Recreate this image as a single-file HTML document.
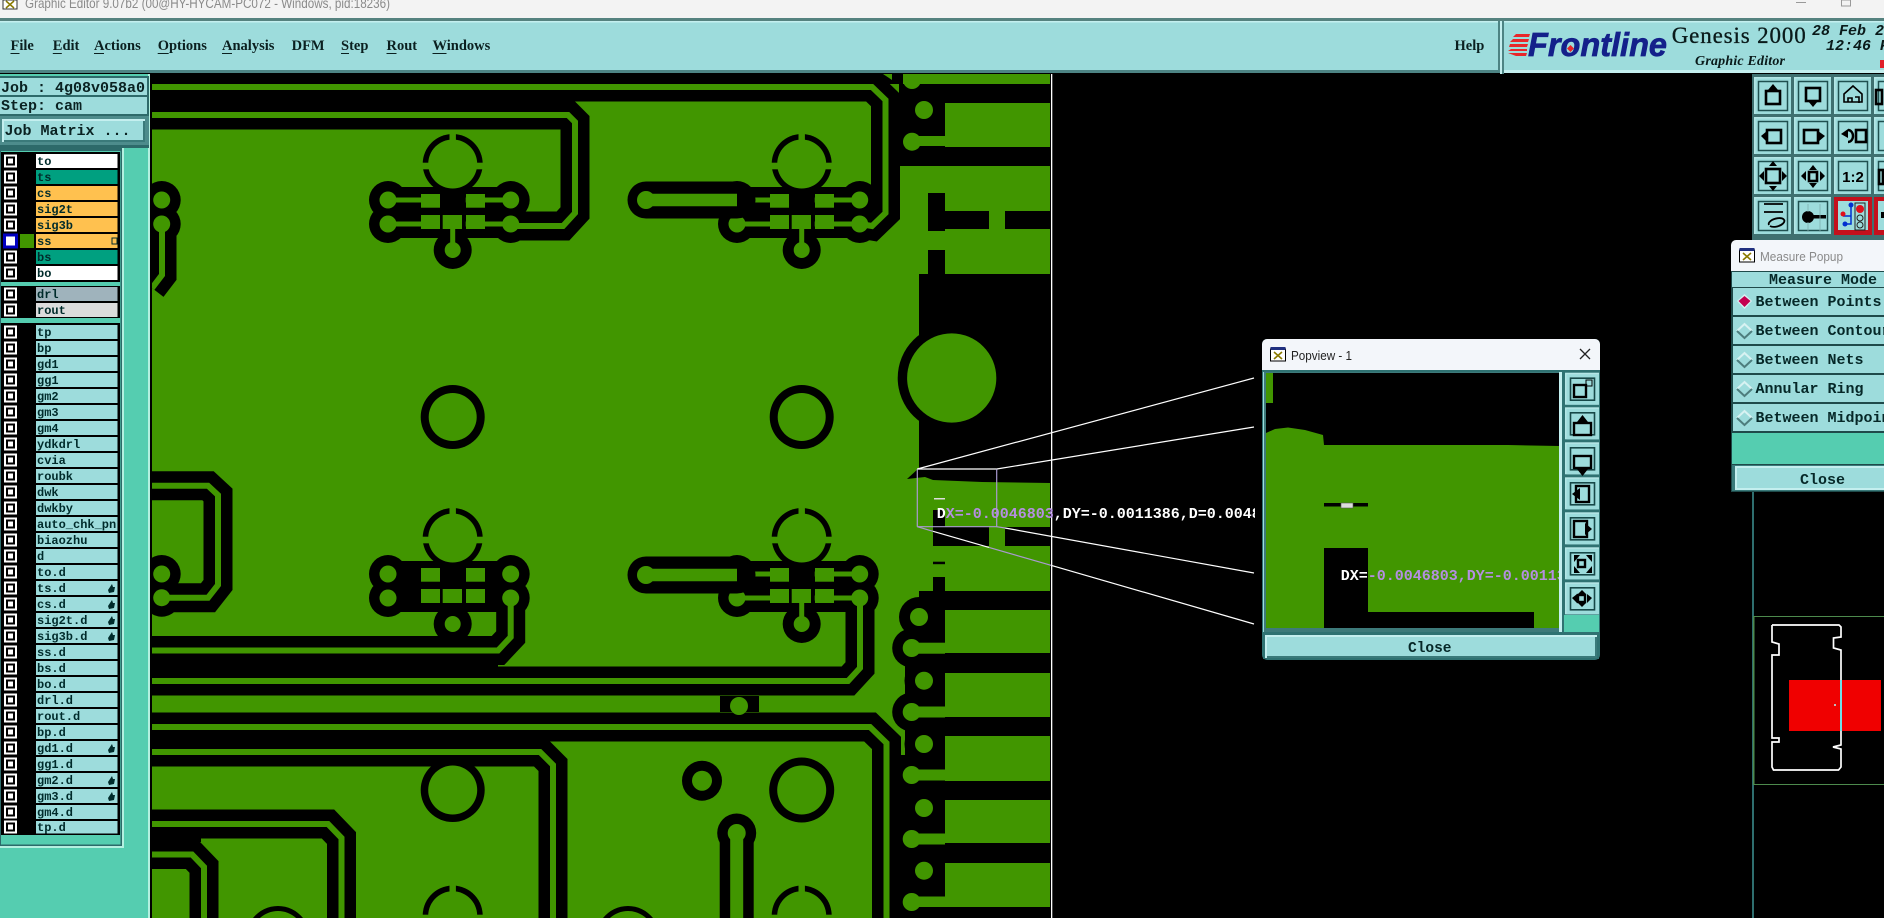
<!DOCTYPE html>
<html><head><meta charset="utf-8"><title>Graphic Editor</title>
<style>
html,body{margin:0;padding:0;background:#000;width:1884px;height:918px;overflow:hidden}
svg{display:block;position:absolute;left:0;top:0}
.m{font-family:"Liberation Mono",monospace;font-weight:bold}
.s{font-family:"Liberation Serif",serif}
.a{font-family:"Liberation Sans",sans-serif}
.l{font-family:"Liberation Mono",monospace;font-weight:bold;font-size:12px;fill:#002b2b}
.r{font-family:"Liberation Mono",monospace;font-weight:bold;font-size:15px;fill:#062828}
.n{font-family:"Liberation Serif",serif;font-weight:bold;font-size:14.5px;fill:#0b2020}
</style></head><body>
<svg width="1884" height="918" viewBox="0 0 1884 918" xmlns="http://www.w3.org/2000/svg">
<defs>
<clipPath id="pcb"><rect x="152" y="74" width="899" height="844"/></clipPath>
<clipPath id="dx"><rect x="900" y="490" width="355" height="40"/></clipPath>
<clipPath id="pv"><rect x="1266" y="373" width="293" height="255"/></clipPath>
<clipPath id="tbc"><rect x="1752" y="74" width="132" height="168"/></clipPath>
<g id="ck"><rect x="4" y="-6.5" width="13" height="13" fill="#fff"/><rect x="6" y="-4.5" width="9" height="9" fill="#000"/><rect x="8" y="-2.5" width="5" height="5" fill="#fff"/></g>
<g id="cb">
<circle cx="0" cy="0" r="30" fill="#000"/>
<rect x="-64.7" y="23" width="122.7" height="51" fill="#000"/>
<circle cx="-64.7" cy="36" r="19" fill="#000"/><circle cx="-64.7" cy="60" r="19" fill="#000"/>
<circle cx="58" cy="36" r="19" fill="#000"/><circle cx="58" cy="60" r="19" fill="#000"/>
<circle cx="0" cy="86" r="19" fill="#000"/>
<circle cx="0" cy="0" r="24.5" fill="#419600"/>
<rect x="-3.2" y="-31" width="6.4" height="8" fill="#419600"/>
<rect x="-31" y="-1.3" width="8" height="6.6" fill="#419600"/><rect x="23" y="-1.3" width="8" height="6.6" fill="#419600"/>
<rect x="-31.7" y="30" width="19" height="13.7" fill="#419600"/><rect x="13.3" y="30" width="19" height="13.7" fill="#419600"/>
<rect x="-31.7" y="51" width="19" height="14" fill="#419600"/><rect x="-10" y="51" width="19.3" height="14" fill="#419600"/><rect x="13.3" y="51" width="19" height="14" fill="#419600"/>
<circle cx="-64.7" cy="36" r="8.5" fill="#419600"/><circle cx="-64.7" cy="60" r="8.5" fill="#419600"/>
<circle cx="58" cy="36" r="8.5" fill="#419600"/><circle cx="58" cy="60" r="8.5" fill="#419600"/>
<circle cx="0" cy="86" r="8" fill="#419600"/>
</g>
<g id="cl" stroke="#419600" stroke-width="5" fill="none">
<path d="M-64.7 36H-31M-64.7 60H-31M13 36H58M13 60H58M0 65V86"/>
</g>
<g id="rt">
<path d="M-29.9 2A30 30 0 1 1 29.9 2Z" fill="#000"/>
<path d="M-24.4 2A24.5 24.5 0 1 1 24.4 2Z" fill="#419600"/>
<rect x="-3.2" y="-31" width="6.4" height="8" fill="#419600"/>
<rect x="-31" y="-1.3" width="8" height="3.3" fill="#419600"/><rect x="23" y="-1.3" width="8" height="3.3" fill="#419600"/>
</g>
<g id="tb"><rect width="38" height="38" fill="#3f7070"/><rect width="37" height="37" fill="#b4e6e6"/><rect x="1.5" y="1.5" width="35.5" height="35.5" fill="#9ddcdc"/><rect x="4.5" y="4.5" width="29" height="29" fill="none" stroke="#1f5050" stroke-width="1.5"/></g>
<g id="pb"><rect width="35" height="33" fill="#2f7272"/><rect width="34" height="32" fill="#b4e6e6"/><rect x="1.5" y="1.5" width="32.5" height="30.5" fill="#9ddcdc"/><rect x="5.5" y="5.5" width="24" height="22" fill="none" stroke="#174848" stroke-width="1.6"/></g>
<g id="ic"><rect x="-7.5" y="-6" width="15" height="12" fill="#fff" stroke="#000"/><rect x="-7.5" y="-8" width="15" height="3" fill="#203080"/><path d="M-4-3L4 4M4-3L-4 4" stroke="#8a7a00" stroke-width="1.6"/></g>
</defs>

<rect width="1884" height="918" fill="#000"/>

<!-- PCB -->
<g clip-path="url(#pcb)">
<rect x="152" y="74" width="898" height="844" fill="#419600"/>
<g fill="#000">
<rect x="899" y="84" width="151" height="19"/>
<rect x="899" y="84" width="46" height="82"/>
<rect x="899" y="147" width="151" height="19"/>
<rect x="928" y="193" width="17" height="38"/><rect x="928" y="211" width="61" height="18"/><rect x="1005" y="211" width="45" height="18"/>
<rect x="928" y="250" width="17" height="24"/>
<polygon points="919,274 1050,274 1050,483 982,482 933,480 925,477 907,479 919,468"/>
<rect x="933" y="510" width="12" height="36"/><rect x="933" y="527" width="56" height="19"/><rect x="1005" y="527" width="45" height="19"/>
<rect x="933" y="561.7" width="12" height="2.5"/><rect x="933" y="577" width="12" height="14"/>
<rect x="919" y="591" width="131" height="19"/>
<rect x="905" y="610" width="40" height="308"/><rect x="900" y="755" width="45" height="163"/>
<rect x="905" y="653" width="145" height="20"/><rect x="905" y="717" width="145" height="19"/><rect x="905" y="781" width="145" height="19"/><rect x="905" y="843" width="145" height="20"/><rect x="905" y="907" width="145" height="11"/>
<circle cx="951.7" cy="378" r="54"/>
<circle cx="919" cy="617" r="20"/><circle cx="911.7" cy="648" r="19.5"/><circle cx="924" cy="680.7" r="19.5"/><circle cx="911.7" cy="712" r="19.5"/><circle cx="924" cy="744" r="19.5"/>
<rect x="720" y="696" width="39" height="16"/>
<rect x="152" y="640" width="346" height="30"/>
<rect x="152" y="836" width="49" height="6"/>
</g>
<circle cx="951.7" cy="378" r="44.6" fill="#419600"/>
<!-- clearances -->
<g fill="none" stroke="#000" stroke-width="29">
<path d="M152 87H872L885.5 100V213L872 226L860 224"/>
<path d="M152 115H568L575 122V213L563 226H511"/>
<path d="M152 681H848L860 668V598"/>
<path d="M152 650.5H498L510.7 637V598"/>
<path d="M152 727H870L886.5 743V918"/>
<path d="M152 752H540L553 765V918"/>
<path d="M152 824H328L341.5 838V918"/>
<path d="M152 854.5H192L204 867V918"/>
<path d="M152 485.7H208L218 495V585L208 597.7H161.7"/>
<path d="M162 224V275L152 288"/>
<path d="M736.7 833V918" stroke-width="34"/>
</g>
<rect x="152" y="74" width="899" height="10" fill="#000"/>
<rect x="903" y="74" width="147" height="10" fill="#419600"/>
<polygon points="883,74 892,74 892,80" fill="#419600"/>
<!-- clusters -->
<use href="#cb" x="452.7" y="164"/><use href="#cl" x="452.7" y="164"/>
<use href="#cb" x="801.7" y="164"/><use href="#cl" x="801.7" y="164"/>
<use href="#cb" x="452.7" y="538"/>
<use href="#cb" x="801.7" y="538"/><use href="#cl" x="801.7" y="538"/>
<use href="#rt" x="452.7" y="916"/><use href="#rt" x="801.7" y="916"/>
<g fill="#000">
<circle cx="161.7" cy="200" r="19"/><circle cx="161.7" cy="224" r="19"/>
<circle cx="161.7" cy="574" r="19"/><circle cx="161.7" cy="597.7" r="19"/>
<circle cx="452.7" cy="417" r="32"/><circle cx="801.7" cy="417" r="32"/>
<circle cx="452.7" cy="790" r="32"/><circle cx="801.7" cy="790" r="32.5"/>
<circle cx="702" cy="780.7" r="20"/><circle cx="736.7" cy="833" r="19.5"/>
<path d="M253 918A32 32 0 0 1 303 918ZM603 918A32 32 0 0 1 653 918Z"/>
</g>
<path d="M646 200H737M646 575H737" stroke="#000" stroke-width="37" stroke-linecap="round" fill="none"/>
<!-- green traces -->
<g fill="none" stroke="#419600" stroke-width="6">
<path d="M152 87H872L885.5 100V213L872 226L860 224"/>
<path d="M152 115H568L575 122V213L563 226H511"/>
<path d="M152 681H848L860 668V598"/>
<path d="M152 650.5H498L510.7 637V598"/>
<path d="M152 727H870L886.5 743V918"/>
<path d="M152 752H540L553 765V918"/>
<path d="M152 824H328L341.5 838V918"/>
<path d="M152 854.5H192L204 867V918"/>
<path d="M152 485.7H208L218 495V585L208 597.7H161.7"/>
<path d="M162 224V275L152 288"/>
<path d="M736.7 833V918" stroke-width="13"/>
<path d="M646 200H737M646 575H737" stroke-width="12.6"/>
</g>
<g fill="#419600">
<circle cx="161.7" cy="200" r="8.5"/><circle cx="161.7" cy="224" r="8.5"/>
<circle cx="161.7" cy="574" r="8.5"/><circle cx="161.7" cy="597.7" r="8.5"/>
<circle cx="646" cy="200" r="9"/><circle cx="646" cy="575" r="9"/>
<circle cx="452.7" cy="417" r="24"/><circle cx="801.7" cy="417" r="24"/>
<circle cx="452.7" cy="790" r="24.5"/><circle cx="801.7" cy="790" r="24.5"/>
<circle cx="702" cy="780.7" r="10"/><circle cx="736.7" cy="833" r="9"/>
<circle cx="739" cy="706" r="9"/>
<path d="M259.9 918A27 27 0 0 1 296.1 918ZM609.9 918A27 27 0 0 1 646.1 918Z"/>
<circle cx="912" cy="80" r="9"/><circle cx="924" cy="110" r="9"/><circle cx="912" cy="141.7" r="9"/><rect x="912" y="136" width="33" height="10"/>
<circle cx="919" cy="617" r="9"/><circle cx="924" cy="680.7" r="9"/><circle cx="924" cy="744" r="9"/><circle cx="924" cy="808" r="9"/><circle cx="924" cy="870.7" r="9"/>
<circle cx="911.7" cy="648" r="9"/><rect x="912" y="642.7" width="33" height="11"/>
<circle cx="911.7" cy="712" r="9"/><rect x="912" y="706.5" width="33" height="11"/>
<circle cx="911.7" cy="775" r="9"/><rect x="912" y="769.5" width="33" height="11"/>
<circle cx="911.7" cy="839" r="9"/><rect x="912" y="833.5" width="33" height="11"/>
<circle cx="911.7" cy="902" r="9"/><rect x="912" y="896.5" width="33" height="10.5"/>
</g>
<rect x="934" y="498" width="11" height="1.5" fill="#ddd"/>
</g>
<rect x="1051" y="74" width="1.3" height="844" fill="#fff"/>

<!-- measure box & zoom lines -->
<g fill="none" stroke-width="1.2">
<path d="M917.3 469H996.7" stroke="#fff"/>
<path d="M917.3 469V526.7M996.7 469V526.7H917.3" stroke="#a99ad0"/>
<path d="M917.3 469L1254 378M996.7 469L1254 427" stroke="#fff"/>
<path d="M1005 528L1254 573M933 531.3L989 547.4M1051 565.3L1254 624" stroke="#fff"/>
<path d="M917.3 526.7L933 531.3M989 547.4L1051 565.3M996.7 526.7L1005 528" stroke="#a99ad0"/>
</g>
<g clip-path="url(#dx)"><text class="m" x="936.7" y="518" font-size="15" fill="#fff"><tspan>D</tspan><tspan fill="#b48fe0">X=-0.004680</tspan><tspan fill="#b48fe0">3</tspan>,DY=-0.0011386,D=0.0048</text></g>

<!-- Title bar -->
<rect width="1884" height="18" fill="#f3f3f3"/>
<rect y="18" width="1884" height="3" fill="#55827f"/>
<rect x="3" y="0" width="14" height="9" fill="#fff" stroke="#333"/><path d="M6 1L14 8M14 1L6 8" stroke="#8a7a00" stroke-width="1.5"/>
<text class="a" x="25" y="8" font-size="14" fill="#8a8a8a" textLength="365" lengthAdjust="spacingAndGlyphs">Graphic Editor 9.07b2 (00@HY-HYCAM-PC072 - Windows, pid:18236)</text>
<rect x="1796" y="2" width="10" height="1" fill="#999"/><rect x="1841.5" y="0" width="9" height="6" fill="none" stroke="#999"/>

<!-- Menu bar -->
<rect y="21" width="1884" height="53" fill="#9ddcdc"/>
<rect y="21" width="1884" height="1.5" fill="#c4efef"/>
<rect y="70" width="1500" height="3" fill="#4d8484"/>
<rect y="73" width="1884" height="1" fill="#000"/>
<text class="n" x="10.5" y="50">File</text><rect x="10.5" y="53" width="9" height="1" fill="#0b2020"/>
<text class="n" x="52.8" y="50">Edit</text><rect x="52.8" y="53" width="9" height="1" fill="#0b2020"/>
<text class="n" x="94" y="50">Actions</text><rect x="94" y="53" width="10" height="1" fill="#0b2020"/>
<text class="n" x="157.7" y="50">Options</text><rect x="157.7" y="53" width="11" height="1" fill="#0b2020"/>
<text class="n" x="222" y="50">Analysis</text><rect x="222" y="53" width="10" height="1" fill="#0b2020"/>
<text class="n" x="291.6" y="50">DFM</text>
<text class="n" x="341" y="50">Step</text><rect x="341" y="53" width="8" height="1" fill="#0b2020"/>
<text class="n" x="386.5" y="50">Rout</text><rect x="386.5" y="53" width="10" height="1" fill="#0b2020"/>
<text class="n" x="432.5" y="50">Windows</text><rect x="432.5" y="53" width="14" height="1" fill="#0b2020"/>
<text class="n" x="1454.5" y="50">Help</text>
<!-- logo -->
<rect x="1498" y="21" width="2" height="51" fill="#4d8484"/><rect x="1500" y="21" width="2" height="53" fill="#c4efef"/><rect x="1502" y="21" width="2" height="53" fill="#4d8484"/>
<rect x="1504" y="70" width="380" height="3" fill="#c4efef"/>
<g fill="#e8262a"><polygon points="1516,34 1530,34 1529,37 1513,37"/><polygon points="1513,39 1529,39 1528,42 1510,42"/><polygon points="1510,44 1528,44 1527,47 1509,47"/><polygon points="1511,49 1527,49 1527,51 1508,51"/><polygon points="1508,53 1527,53 1526,56 1516,56"/></g>
<text x="1528" y="56" font-family="Liberation Sans" font-weight="bold" font-style="italic" font-size="33" fill="#14208a" stroke="#14208a" stroke-width=".7" textLength="139" lengthAdjust="spacingAndGlyphs">Frontline</text>
<polygon points="1570.5,45 1574,48.5 1570.5,52 1567,48.5" fill="#e8262a"/>
<text class="s" x="1671.7" y="43" font-size="23" fill="#0a1a1a" stroke="#0a1a1a" stroke-width=".3" textLength="134" lengthAdjust="spacing">Genesis 2000</text>
<text class="s" x="1695" y="65" font-size="14" font-weight="bold" font-style="italic" fill="#0a1a1a" textLength="90">Graphic Editor</text>
<text class="m" x="1812" y="35" font-size="15" font-style="italic" fill="#0a1a1a">28 Feb 2</text>
<text class="m" x="1826" y="50" font-size="15" font-style="italic" fill="#0a1a1a">12:46 P</text>
<rect x="1880" y="60" width="4" height="8" fill="#e0202a"/>

<!-- Left panel -->
<rect x="0" y="74" width="150" height="844" fill="#55cdb0"/>
<rect x="148" y="74" width="2" height="844" fill="#b4f0e0"/><rect x="150" y="74" width="2" height="844" fill="#000"/>
<rect x="0" y="76" width="149" height="72" fill="#2d6a6a"/>
<rect x="0" y="78" width="147" height="17" fill="#9ddcdc"/><rect x="0" y="97" width="147" height="17" fill="#9ddcdc"/>
<rect x="0" y="116" width="149" height="29" fill="#4d8c8c"/>
<rect x="2" y="119" width="143" height="23" fill="#c4efef"/><rect x="4" y="121" width="141" height="21" fill="#3a7a7a"/><rect x="4" y="121" width="139" height="19" fill="#9ddcdc"/>
<text class="m" x="1" y="92" font-size="15" fill="#0a2222">Job : 4g08v058a0</text>
<text class="m" x="1" y="110" font-size="15" fill="#0a2222">Step: cam</text>
<text class="m" x="4.5" y="135" font-size="15" fill="#0a2222">Job Matrix ...</text>

<rect x="0" y="148" width="122" height="698" fill="#55cdb0"/>
<rect x="122" y="148" width="2" height="698" fill="#b4f0e0"/><rect x="0" y="846" width="124" height="2" fill="#b4f0e0"/>
<rect x="0" y="148" width="122" height="3" fill="#2d6a6a"/>
<rect x="0" y="151" width="1" height="695" fill="#2d6a6a"/><rect x="120.5" y="151" width="1.5" height="695" fill="#2d6a6a"/><rect x="0" y="844.5" width="122" height="1.5" fill="#2d6a6a"/>
<rect x="1" y="152" width="119" height="130" fill="#000"/>
<rect x="1" y="286" width="119" height="32" fill="#000"/>
<rect x="1" y="323" width="119" height="512" fill="#000"/>

<g>
<rect x="36" y="154" width="81.5" height="14" fill="#fff"/><rect x="36" y="170" width="81.5" height="14" fill="#00a080"/><rect x="36" y="186" width="81.5" height="14" fill="#ffc14f"/><rect x="36" y="202" width="81.5" height="14" fill="#ffc14f"/><rect x="36" y="218" width="81.5" height="14" fill="#ffc14f"/><rect x="36" y="234" width="81.5" height="14" fill="#ffc14f"/><rect x="36" y="250" width="81.5" height="14" fill="#00a080"/><rect x="36" y="266" width="81.5" height="14" fill="#fff"/>
<rect x="36" y="287" width="81.5" height="14" fill="#9fb3bc"/><rect x="36" y="303" width="81.5" height="14" fill="#dcdcdc"/>
<rect x="36" y="325" width="81.5" height="14" fill="#9ddcdc"/><rect x="36" y="341" width="81.5" height="14" fill="#9ddcdc"/><rect x="36" y="357" width="81.5" height="14" fill="#9ddcdc"/><rect x="36" y="373" width="81.5" height="14" fill="#9ddcdc"/><rect x="36" y="389" width="81.5" height="14" fill="#9ddcdc"/><rect x="36" y="405" width="81.5" height="14" fill="#9ddcdc"/><rect x="36" y="421" width="81.5" height="14" fill="#9ddcdc"/><rect x="36" y="437" width="81.5" height="14" fill="#9ddcdc"/><rect x="36" y="453" width="81.5" height="14" fill="#9ddcdc"/><rect x="36" y="469" width="81.5" height="14" fill="#9ddcdc"/><rect x="36" y="485" width="81.5" height="14" fill="#9ddcdc"/><rect x="36" y="501" width="81.5" height="14" fill="#9ddcdc"/><rect x="36" y="517" width="81.5" height="14" fill="#9ddcdc"/><rect x="36" y="533" width="81.5" height="14" fill="#9ddcdc"/><rect x="36" y="549" width="81.5" height="14" fill="#9ddcdc"/><rect x="36" y="565" width="81.5" height="14" fill="#9ddcdc"/><rect x="36" y="581" width="81.5" height="14" fill="#9ddcdc"/><rect x="36" y="597" width="81.5" height="14" fill="#9ddcdc"/><rect x="36" y="613" width="81.5" height="14" fill="#9ddcdc"/><rect x="36" y="629" width="81.5" height="14" fill="#9ddcdc"/><rect x="36" y="645" width="81.5" height="14" fill="#9ddcdc"/><rect x="36" y="661" width="81.5" height="14" fill="#9ddcdc"/><rect x="36" y="677" width="81.5" height="14" fill="#9ddcdc"/><rect x="36" y="693" width="81.5" height="14" fill="#9ddcdc"/><rect x="36" y="709" width="81.5" height="14" fill="#9ddcdc"/><rect x="36" y="725" width="81.5" height="14" fill="#9ddcdc"/><rect x="36" y="741" width="81.5" height="14" fill="#9ddcdc"/><rect x="36" y="757" width="81.5" height="14" fill="#9ddcdc"/><rect x="36" y="773" width="81.5" height="14" fill="#9ddcdc"/><rect x="36" y="789" width="81.5" height="14" fill="#9ddcdc"/><rect x="36" y="805" width="81.5" height="14" fill="#9ddcdc"/><rect x="36" y="821" width="81.5" height="12.5" fill="#9ddcdc"/>
</g>
<g>
<use href="#ck" y="161"/><use href="#ck" y="177"/><use href="#ck" y="193"/><use href="#ck" y="209"/><use href="#ck" y="225"/><use href="#ck" y="241"/><use href="#ck" y="257"/><use href="#ck" y="273"/><use href="#ck" y="294"/><use href="#ck" y="310"/>
<use href="#ck" y="332"/><use href="#ck" y="348"/><use href="#ck" y="364"/><use href="#ck" y="380"/><use href="#ck" y="396"/><use href="#ck" y="412"/><use href="#ck" y="428"/><use href="#ck" y="444"/><use href="#ck" y="460"/><use href="#ck" y="476"/><use href="#ck" y="492"/><use href="#ck" y="508"/><use href="#ck" y="524"/><use href="#ck" y="540"/><use href="#ck" y="556"/><use href="#ck" y="572"/><use href="#ck" y="588"/><use href="#ck" y="604"/><use href="#ck" y="620"/><use href="#ck" y="636"/><use href="#ck" y="652"/><use href="#ck" y="668"/><use href="#ck" y="684"/><use href="#ck" y="700"/><use href="#ck" y="716"/><use href="#ck" y="732"/><use href="#ck" y="748"/><use href="#ck" y="764"/><use href="#ck" y="780"/><use href="#ck" y="796"/><use href="#ck" y="812"/><use href="#ck" y="827"/>
</g>
<rect x="3" y="233.5" width="15" height="15" fill="#0000c0"/><rect x="6" y="236.5" width="9" height="9" fill="#fff"/><rect x="8" y="238.5" width="5" height="5" fill="#fff"/><rect x="20" y="234" width="14" height="14" fill="#419600"/>
<rect x="112" y="238" width="5" height="6" fill="none" stroke="#002b2b"/>
<g class="l">
<text class="l" x="37" y="165">to</text><text class="l" x="37" y="181">ts</text><text class="l" x="37" y="197">cs</text><text class="l" x="37" y="213">sig2t</text><text class="l" x="37" y="229">sig3b</text><text class="l" x="37" y="245">ss</text><text class="l" x="37" y="261">bs</text><text class="l" x="37" y="277">bo</text><text class="l" x="37" y="298">drl</text><text class="l" x="37" y="314">rout</text>
<text class="l" x="37" y="336">tp</text><text class="l" x="37" y="352">bp</text><text class="l" x="37" y="368">gd1</text><text class="l" x="37" y="384">gg1</text><text class="l" x="37" y="400">gm2</text><text class="l" x="37" y="416">gm3</text><text class="l" x="37" y="432">gm4</text><text class="l" x="37" y="448">ydkdrl</text><text class="l" x="37" y="464">cvia</text><text class="l" x="37" y="480">roubk</text><text class="l" x="37" y="496">dwk</text><text class="l" x="37" y="512">dwkby</text>
<svg x="36" y="517" width="81.5" height="14"><text class="l" x="1" y="11">auto_chk_pnl</text></svg>
<text class="l" x="37" y="544">biaozhu</text><text class="l" x="37" y="560">d</text><text class="l" x="37" y="576">to.d</text><text class="l" x="37" y="592">ts.d</text><text class="l" x="37" y="608">cs.d</text><text class="l" x="37" y="624">sig2t.d</text><text class="l" x="37" y="640">sig3b.d</text><text class="l" x="37" y="656">ss.d</text><text class="l" x="37" y="672">bs.d</text><text class="l" x="37" y="688">bo.d</text><text class="l" x="37" y="704">drl.d</text><text class="l" x="37" y="720">rout.d</text><text class="l" x="37" y="736">bp.d</text><text class="l" x="37" y="752">gd1.d</text><text class="l" x="37" y="768">gg1.d</text><text class="l" x="37" y="784">gm2.d</text><text class="l" x="37" y="800">gm3.d</text><text class="l" x="37" y="816">gm4.d</text><text class="l" x="37" y="831">tp.d</text>
</g>
<g fill="#002b2b"><polygon points="108,590 112,584 113,587 115,587 114,592 109,593"/><polygon points="108,606 112,600 113,603 115,603 114,608 109,609"/><polygon points="108,622 112,616 113,619 115,619 114,624 109,625"/><polygon points="108,638 112,632 113,635 115,635 114,640 109,641"/><polygon points="108,750 112,744 113,747 115,747 114,752 109,753"/><polygon points="108,782 112,776 113,779 115,779 114,784 109,785"/><polygon points="108,798 112,792 113,795 115,795 114,800 109,801"/></g>

<!-- Toolbar -->
<rect x="1752" y="74" width="132" height="166" fill="#3f7070"/>
<g clip-path="url(#tbc)">
<use href="#tb" x="1754" y="77"/><use href="#tb" x="1794" y="77"/><use href="#tb" x="1834" y="77"/><use href="#tb" x="1874" y="77"/>
<use href="#tb" x="1754" y="117"/><use href="#tb" x="1794" y="117"/><use href="#tb" x="1834" y="117"/><use href="#tb" x="1874" y="117"/>
<use href="#tb" x="1754" y="157"/><use href="#tb" x="1794" y="157"/><use href="#tb" x="1834" y="157"/><use href="#tb" x="1874" y="157"/>
<use href="#tb" x="1754" y="197"/><use href="#tb" x="1794" y="197"/>
<rect x="1834" y="197" width="38" height="38" fill="#c4101c"/><rect x="1838" y="201" width="30" height="29" fill="#9ddcdc"/>
<rect x="1874" y="197" width="10" height="38" fill="#c4101c"/><rect x="1878" y="201" width="6" height="29" fill="#9ddcdc"/>
<g fill="none" stroke="#000" stroke-width="2.6">
<rect x="1766" y="91" width="14" height="13"/><rect x="1806" y="88" width="14" height="13"/>
<path d="M1844 102V94L1853 86L1862 94V102ZM1848 98h4v4h-4zM1855 97h4v6"  stroke-width="1.6"/>
<rect x="1876" y="90" width="6" height="14"/>
<rect x="1767" y="130" width="14" height="13"/><rect x="1804" y="130" width="14" height="13"/><rect x="1856" y="130" width="10" height="12"/>
<path d="M1848 130a5 6 0 1 1 0 12" stroke-width="2.4"/>
<rect x="1766" y="169" width="14" height="14"/><rect x="1809" y="172" width="8" height="9"/>
<rect x="1879" y="170" width="4" height="14"/>
<path d="M1764 204H1783M1764 212H1783M1769 225a8 4 -15 1 1 1 1" stroke-width="1.8"/>
</g>
<g fill="#000">
<polygon points="1773,84 1778,90 1768,90"/><polygon points="1813,107 1808,101 1818,101"/>
<polygon points="1761,136 1767,131 1767,142"/><polygon points="1825,136 1818,131 1818,142"/><polygon points="1841,134 1848,129 1848,138"/>
<polygon points="1773,161 1777,166 1769,166"/><polygon points="1773,191 1777,186 1769,186"/><polygon points="1759,176 1764,171 1764,181"/><polygon points="1787,176 1782,171 1782,181"/>
<polygon points="1813,165 1817,170 1809,170"/><polygon points="1813,188 1817,183 1809,183"/><polygon points="1801,176 1806,171 1806,181"/><polygon points="1825,176 1820,171 1820,181"/>
<circle cx="1808" cy="217" r="6"/><rect x="1808" y="215" width="18" height="3.5"/>
</g>
<path d="M1808 212v-8M1808 222v10M1820 204v28" stroke="#7fb0b0" stroke-width="0.8"/>
<text x="1853" y="182" font-family="Liberation Sans" font-weight="bold" font-size="15" text-anchor="middle" fill="#000">1:2</text>
<circle cx="1860" cy="209" r="4" fill="#e0101c"/><circle cx="1860" cy="218" r="3" fill="none" stroke="#222"/><circle cx="1860" cy="225" r="3" fill="none" stroke="#222"/><rect x="1855" y="203" width="10" height="27" fill="none" stroke="#222"/>
<path d="M1851 205V216H1843M1851 216V224H1845" fill="none" stroke="#0030d0" stroke-width="1.5"/><circle cx="1851" cy="205" r="2.5" fill="#0030d0"/><circle cx="1845" cy="224" r="2.5" fill="#0030d0"/><circle cx="1843" cy="214" r="2.5" fill="#e0101c"/>
<rect x="1881" y="212" width="3" height="6" fill="#000"/>
</g>

<!-- Popview popup -->
<rect x="1262" y="339" width="338" height="321" rx="5" fill="#2f7272"/>
<path d="M1262 370V344a5 5 0 0 1 5-5H1595a5 5 0 0 1 5 5V370Z" fill="#f3f6fa"/>
<use href="#ic" x="1278" y="355"/>
<text class="a" x="1291" y="360" font-size="13" fill="#222" textLength="61" lengthAdjust="spacingAndGlyphs">Popview - 1</text>
<path d="M1580 349L1590 359M1590 349L1580 359" stroke="#222" stroke-width="1.3"/>
<rect x="1263" y="370" width="336" height="2" fill="#2f7272"/>
<rect x="1263" y="372" width="336" height="287" fill="#9ddcdc"/>
<rect x="1264" y="372" width="298" height="262" fill="#3d7a7a"/>
<rect x="1266" y="373" width="293" height="255" fill="#000"/>
<g clip-path="url(#pv)">
<rect x="1266" y="373" width="7" height="30" fill="#419600"/>
<polygon points="1266,433 1275,429 1288,427.5 1305,430 1323,435 1324,445 1508,445 1559,446 1559,628 1534,628 1534,612 1368,612 1368,548 1324,548 1324,628 1266,628" fill="#419600"/>
<rect x="1324" y="503" width="44" height="3.5" fill="#000"/>
<rect x="1341" y="503" width="12" height="5" fill="#ddd" stroke="#555" stroke-width="0.6"/>
<text class="m" x="1340.7" y="580" font-size="15" fill="#b48fe0"><tspan fill="#fff">DX=</tspan>-0.0046803,DY=-0.0011386</text>
</g>
<rect x="1559" y="372" width="3" height="262" fill="#c4efef"/>
<rect x="1562" y="372" width="37" height="262" fill="#2f7272"/>
<use href="#pb" x="1565" y="372.7"/><use href="#pb" x="1565" y="407.3"/><use href="#pb" x="1565" y="442.3"/><use href="#pb" x="1565" y="477.3"/><use href="#pb" x="1565" y="512.3"/><use href="#pb" x="1565" y="547.3"/><use href="#pb" x="1565" y="582.3"/>
<rect x="1564" y="615" width="35" height="17" fill="#55cdb0"/>
<g fill="none" stroke="#000" stroke-width="2.4">
<rect x="1574" y="385" width="12" height="12"/><rect x="1586" y="380" width="6" height="6" stroke-width="1"/>
<rect x="1574" y="423" width="17" height="12"/><rect x="1574" y="456" width="17" height="12"/>
<rect x="1576" y="486" width="13" height="16"/><rect x="1574" y="521" width="13" height="16"/>
<rect x="1578" y="560" width="7" height="7"/><rect x="1578" y="595" width="7" height="7"/>
</g>
<g fill="#000">
<polygon points="1582.5,415 1588,422 1577,422"/><polygon points="1582.5,476 1588,469 1577,469"/><polygon points="1572,494 1580,488 1580,500"/><polygon points="1592,529 1585,523 1585,535"/>
<polygon points="1574,555 1580,555 1574,562"/><polygon points="1592,555 1586,555 1592,562"/><polygon points="1574,573 1580,573 1574,566"/><polygon points="1592,573 1586,573 1592,566"/>
<polygon points="1582,590 1586,594 1578,594"/><polygon points="1582,607 1586,603 1578,603"/><polygon points="1572,598 1577,594 1577,603"/><polygon points="1592,598 1587,594 1587,603"/>
</g>
<rect x="1263" y="632" width="336" height="27" fill="#2f7272"/>
<rect x="1265" y="635" width="332" height="23" fill="#c4efef"/><rect x="1267" y="637" width="330" height="21" fill="#3a7a7a"/><rect x="1267" y="637" width="328" height="19" fill="#9ddcdc"/>
<text class="r" x="1408" y="652" style="font-size:14.5px">Close</text>

<!-- Measure Popup -->
<rect x="1752" y="492" width="2" height="426" fill="#2e6e6e"/>
<path d="M1731 272V245a5 5 0 0 1 5-5H1884V272Z" fill="#f3f6fa"/>
<use href="#ic" x="1747" y="256"/>
<text class="a" x="1760" y="261" font-size="13" fill="#8a8a8a" textLength="83" lengthAdjust="spacingAndGlyphs">Measure Popup</text>
<rect x="1731" y="271" width="153" height="221" fill="#1f4a4a"/>
<rect x="1732" y="272" width="152" height="15" fill="#9ddcdc"/>
<rect x="1733" y="288" width="151" height="27" fill="#9ddcdc"/><rect x="1733" y="317" width="151" height="27" fill="#9ddcdc"/><rect x="1733" y="346" width="151" height="27" fill="#9ddcdc"/><rect x="1733" y="375" width="151" height="27" fill="#9ddcdc"/><rect x="1733" y="404" width="151" height="27" fill="#9ddcdc"/>
<rect x="1732" y="433" width="152" height="31" fill="#55cdb0"/>
<rect x="1732" y="465" width="152" height="26" fill="#3a7a7a"/><rect x="1735" y="466" width="149" height="24" fill="#c4efef"/><rect x="1737" y="468" width="147" height="20" fill="#9ddcdc"/>
<text class="r" x="1769" y="284">Measure Mode</text>
<text class="r" x="1755.5" y="306">Between Points</text>
<text class="r" x="1755.5" y="335">Between Contours</text>
<text class="r" x="1755.5" y="364">Between Nets</text>
<text class="r" x="1755.5" y="393">Annular Ring</text>
<text class="r" x="1755.5" y="422">Between Midpoints</text>
<text class="r" x="1800" y="484">Close</text>
<polygon points="1744.5,294 1752,301 1744.5,309 1737,301" fill="#d8f2f2"/><polygon points="1744.5,296 1750.5,301 1744.5,307 1738.5,301" fill="#c4004f"/>
<g fill="none" stroke-width="2"><path d="M1737 331L1744.5 324L1752 331" stroke="#d8f2f2"/><path d="M1737 331L1744.5 338L1752 331" stroke="#4d7d7d"/>
<path d="M1737 360L1744.5 353L1752 360" stroke="#d8f2f2"/><path d="M1737 360L1744.5 367L1752 360" stroke="#4d7d7d"/>
<path d="M1737 389L1744.5 382L1752 389" stroke="#d8f2f2"/><path d="M1737 389L1744.5 396L1752 389" stroke="#4d7d7d"/>
<path d="M1737 418L1744.5 411L1752 418" stroke="#d8f2f2"/><path d="M1737 418L1744.5 425L1752 418" stroke="#4d7d7d"/></g>

<!-- Mini map -->
<rect x="1753" y="616" width="131" height="1" fill="#4d8a4d"/><rect x="1753" y="784" width="131" height="1" fill="#4d8a4d"/><rect x="1753" y="616" width="1.5" height="169" fill="#4d8a4d"/>
<rect x="1789" y="680" width="92" height="51" fill="#f00000"/>
<path d="M1772 625H1839L1841 627V637L1833.5 638V648L1841 650V680" fill="none" stroke="#fff" stroke-width="1.7"/>
<path d="M1841 731V745L1833 747L1841 749V767L1838.5 770H1773.5L1772 767V742H1779V738H1772V655H1779V644L1772 642V625" fill="none" stroke="#fff" stroke-width="1.7"/>
<rect x="1840" y="680" width="2" height="51" fill="#70e0e8"/>
<rect x="1834" y="704" width="2" height="2" fill="#bbb"/>
</svg>
</body></html>
